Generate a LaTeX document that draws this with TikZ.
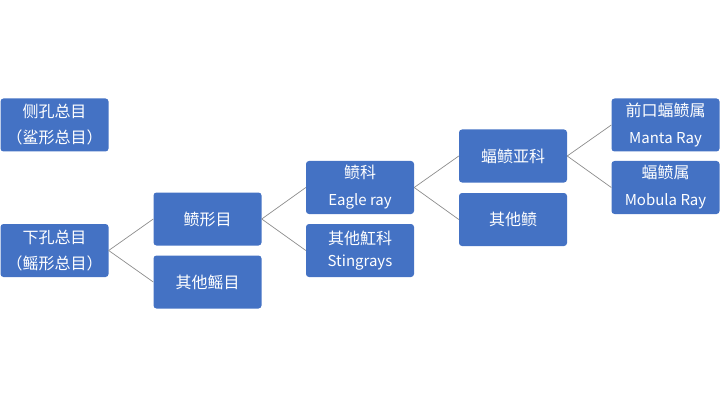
\documentclass[tikz,border=0pt]{standalone}
\usepackage{fontspec}
\setmainfont{Noto Sans CJK SC}
\newfontfamily\cjk{Noto Sans CJK SC}
\definecolor{boxblue}{HTML}{4472C4}
\definecolor{linegray}{HTML}{8C8C8C}
\begin{document}
\begin{tikzpicture}[x=1pt,y=1pt,
  tbox/.style={fill=boxblue, draw=none, rounded corners=3pt, minimum width=108pt, minimum height=53pt,
    text=white, align=center, font=\fontsize{16}{26}\selectfont\cjk, inner sep=1pt},
  ebox/.style={tbox, font=\fontsize{15}{27}\selectfont\cjk},
  conn/.style={draw=linegray, line width=0.7pt}]
\useasboundingbox (0,0) rectangle (720,405);
\node[tbox] (A) at (54.5,280) {侧孔总目\\（鲨形总目）};
\node[tbox] (B) at (54.5,154.5) {下孔总目\\（鳐形总目）};
\node[tbox] (C) at (207.5,186) {鲼形目};
\node[tbox] (D) at (207.5,123) {其他鳐目};
\node[ebox] (E) at (360,217.5) {{\fontsize{16}{20}\selectfont 鲼科}\\Eagle ray};
\node[ebox] (F) at (360,154.5) {{\fontsize{16}{20}\selectfont 其他魟科}\\[-5pt]Stingrays};
\node[tbox] (G) at (513,249) {蝠鲼亚科};
\node[tbox] (H) at (513,185.5) {其他鲼};
\node[ebox] (I) at (665.5,280) {{\fontsize{16}{20}\selectfont 前口蝠鲼属}\\Manta Ray};
\node[ebox] (J) at (665.5,217.5) {{\fontsize{16}{20}\selectfont 蝠鲼属}\\Mobula Ray};
\draw[conn] (B.east) -- (C.west);
\draw[conn] (B.east) -- (D.west);
\draw[conn] (C.east) -- (E.west);
\draw[conn] (C.east) -- (F.west);
\draw[conn] (E.east) -- (G.west);
\draw[conn] (E.east) -- (H.west);
\draw[conn] (G.east) -- (I.west);
\draw[conn] (G.east) -- (J.west);
\end{tikzpicture}
\end{document}
